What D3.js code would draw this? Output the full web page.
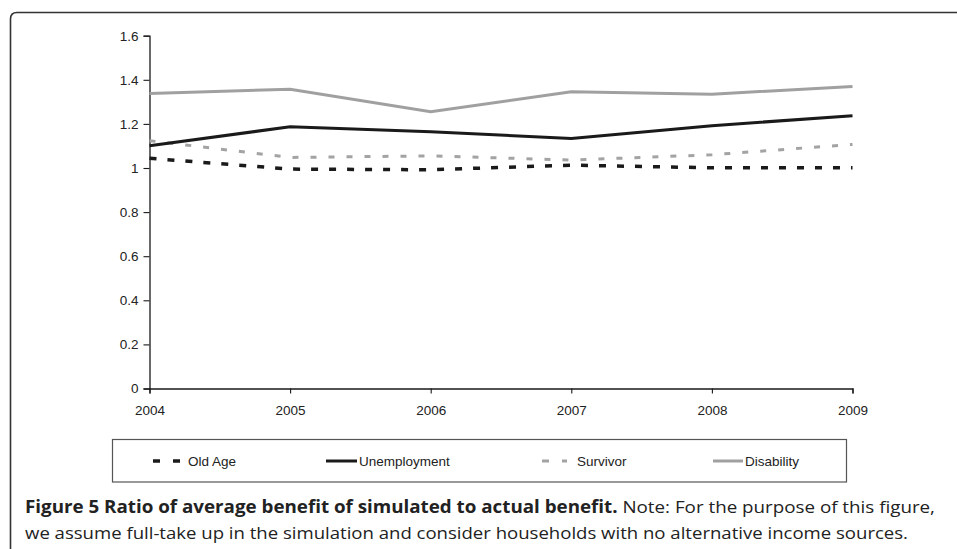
<!DOCTYPE html>
<html>
<head>
<meta charset="utf-8">
<script src="https://cdn.jsdelivr.net/npm/d3@7"></script>
<style>
  html, body { margin: 0; padding: 0; background: #fff; }
  svg { display: block; }
</style>
</head>
<body>
<svg id="chart" width="957" height="549"></svg>
<script>
// ---- data ----
const years = [2004, 2005, 2006, 2007, 2008, 2009];
const oldAge       = [1.044, 0.995, 0.992, 1.013, 1.001, 1.001];
const unemployment = [1.101, 1.187, 1.164, 1.134, 1.192, 1.237];
const survivor     = [1.124, 1.048, 1.055, 1.036, 1.060, 1.107];
const disability   = [1.338, 1.357, 1.255, 1.346, 1.335, 1.370];
const yTicks = [0, 0.2, 0.4, 0.6, 0.8, 1, 1.2, 1.4, 1.6];
const yTickLabels = ["0", "0.2", "0.4", "0.6", "0.8", "1", "1.2", "1.4", "1.6"];
const seriesNames = ["Old Age", "Unemployment", "Survivor", "Disability"];
const captionBold = "Figure 5 Ratio of average benefit of simulated to actual benefit.";
const captionRest = " Note: For the purpose of this figure,";
const captionLine2 = "we assume full-take up in the simulation and consider households with no alternative income sources.";

// ---- styles ----
const styles = [
  { color: "#1a1a1a", width: 3.5, dash: "7,11" },
  { color: "#1a1a1a", width: 3,   dash: null },
  { color: "#a3a3a3", width: 3,   dash: "6,12" },
  { color: "#a0a0a0", width: 3,   dash: null }
];
const seriesValues = [oldAge, unemployment, survivor, disability];

const svg = d3.select("#chart");

// frame
svg.append("path")
  .attr("d", "M10.5,549 L10.5,19 Q10.5,12.5 17,12.5 L957,12.5")
  .attr("fill", "none").attr("stroke", "#333").attr("stroke-width", 1.6);

const x = d3.scaleLinear().domain([2004, 2009]).range([149.5, 852.5]);
const y = d3.scaleLinear().domain([0, 1.6]).range([388.5, 35.7]);

const tickFont = "'Liberation Sans', Arial, Helvetica, sans-serif";

// y axis
const yAxis = svg.append("g").attr("transform", "translate(149.5,0)")
  .call(d3.axisLeft(y).tickValues(yTicks).tickSize(6).tickPadding(5)
    .tickFormat((d, i) => yTickLabels[i]));
// x axis
const xAxis = svg.append("g").attr("transform", "translate(0,388.5)")
  .call(d3.axisBottom(x).tickValues(years).tickSize(5).tickPadding(12)
    .tickFormat(d3.format("d")));

[yAxis, xAxis].forEach(g => {
  g.select(".domain").attr("stroke", "#1a1a1a").attr("stroke-width", 1.3);
  g.selectAll(".tick line").attr("stroke", "#1a1a1a").attr("stroke-width", 1.1);
  g.selectAll(".tick text").attr("fill", "#222")
    .style("font-family", tickFont).style("font-size", "13.5px");
});

// lines
const line = d3.line().x((d, i) => x(years[i])).y(d => y(d));
const drawOrder = [3, 2, 1, 0];
drawOrder.forEach(k => {
  const s = styles[k];
  svg.append("path")
    .datum(seriesValues[k])
    .attr("d", line)
    .attr("fill", "none")
    .attr("stroke", s.color)
    .attr("stroke-width", s.width)
    .attr("stroke-dasharray", s.dash)
    .attr("stroke-linejoin", "miter");
});

// legend box
svg.append("rect")
  .attr("x", 112.5).attr("y", 439.5).attr("width", 734).attr("height", 42.5)
  .attr("fill", "none").attr("stroke", "#555").attr("stroke-width", 1.2);

const legendItems = [
  { x0: 153, x1: 180, tx: 188 },
  { x0: 326, x1: 357, tx: 359 },
  { x0: 542, x1: 567, tx: 577 },
  { x0: 713, x1: 743, tx: 745 }
];
const ly = 461;
legendItems.forEach((it, k) => {
  const s = styles[k];
  svg.append("line")
    .attr("x1", it.x0).attr("x2", it.x1).attr("y1", ly).attr("y2", ly)
    .attr("stroke", s.color).attr("stroke-width", s.width)
    .attr("stroke-dasharray", s.dash ? "7,13" : null);
  svg.append("text")
    .attr("x", it.tx).attr("y", ly + 5)
    .style("font-family", tickFont).style("font-size", "13.5px")
    .attr("fill", "#222")
    .text(seriesNames[k]);
});

// caption
const capFont = "'Open Sans', 'Noto Sans', sans-serif";
const t1 = svg.append("text").attr("x", 25).attr("y", 513)
  .style("font-family", capFont).style("font-size", "17px").attr("fill", "#222");
t1.append("tspan").style("font-weight", "bold").text(captionBold);
t1.append("tspan").text(captionRest);
const t2 = svg.append("text").attr("x", 25).attr("y", 539)
  .style("font-family", capFont).style("font-size", "17px").attr("fill", "#222")
  .text(captionLine2);
t1.attr("textLength", 910).attr("lengthAdjust", "spacingAndGlyphs");
t2.attr("textLength", 883).attr("lengthAdjust", "spacingAndGlyphs");
</script>
</body>
</html>
